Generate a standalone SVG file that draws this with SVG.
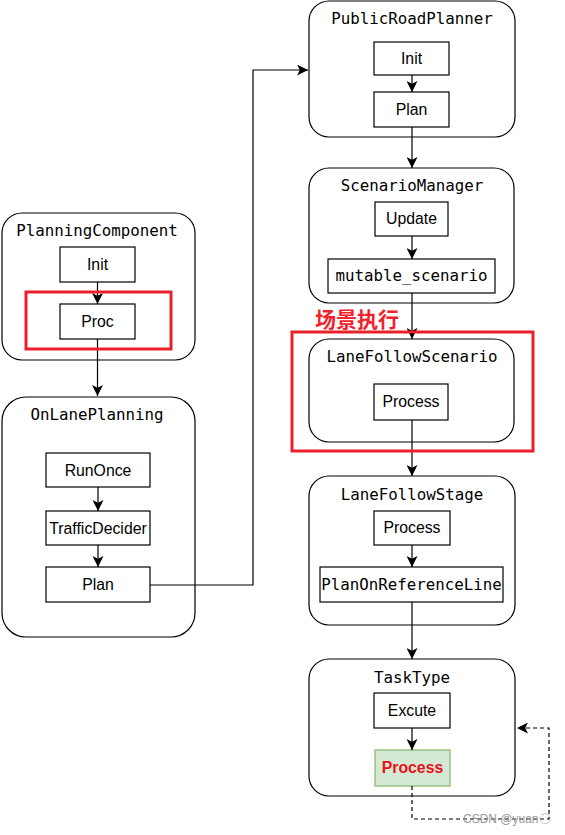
<svg xmlns="http://www.w3.org/2000/svg" width="565" height="835" viewBox="0 0 565 835">
<style>
.cont{fill:#fff;stroke:#000;stroke-width:1.2}
.box{fill:#fff;stroke:#000;stroke-width:1.2}
.title{font-family:"DejaVu Sans Mono","Liberation Mono",monospace;font-size:15.8px;fill:#000;text-anchor:middle}
.mono{font-family:"DejaVu Sans Mono","Liberation Mono",monospace;font-size:15.8px;fill:#000;text-anchor:middle}
.lbl{font-family:"Liberation Sans",Arial,sans-serif;font-size:15.8px;fill:#000;text-anchor:middle}
.edge{fill:none;stroke:#000;stroke-width:1.2}
.dash{fill:none;stroke:#000;stroke-width:1.2;stroke-dasharray:4,3}
.hl{fill:none;stroke:#e8202a;stroke-width:3}
</style>
<defs>
<marker id="ah" markerUnits="userSpaceOnUse" markerWidth="11" markerHeight="11" viewBox="0 0 10 10" refX="10" refY="5" orient="auto">
<path d="M0,0 L10,5 L0,10 L2.5,5 Z" fill="#000"/>
</marker>
</defs>
<rect width="565" height="835" fill="#fff"/>

<g id="PlanningComponent">
<rect class="cont" x="2" y="213" width="193" height="147" rx="20"/>
<text class="title" x="97" y="236">PlanningComponent</text>
<rect class="box" x="60" y="247" width="75" height="35"/>
<text class="lbl" x="97.5" y="270">Init</text>
<rect class="box" x="60" y="304" width="75" height="35"/>
<text class="lbl" x="97.5" y="327">Proc</text>
</g>

<g id="OnLanePlanning">
<rect class="cont" x="2" y="397" width="193" height="240" rx="24"/>
<text class="title" x="97" y="420">OnLanePlanning</text>
<rect class="box" x="46" y="453" width="104" height="34"/>
<text class="lbl" x="98" y="476">RunOnce</text>
<rect class="box" x="46" y="511" width="104" height="34"/>
<text class="lbl" x="98" y="534">TrafficDecider</text>
<rect class="box" x="46" y="567" width="104" height="35"/>
<text class="lbl" x="98" y="590">Plan</text>
</g>

<g id="PublicRoadPlanner">
<rect class="cont" x="309" y="1" width="206" height="136" rx="20"/>
<text class="title" x="412" y="24">PublicRoadPlanner</text>
<rect class="box" x="374" y="42" width="75" height="33"/>
<text class="lbl" x="411.5" y="64">Init</text>
<rect class="box" x="374" y="92" width="75" height="35"/>
<text class="lbl" x="411.5" y="115">Plan</text>
</g>

<g id="ScenarioManager">
<rect class="cont" x="309" y="168" width="205" height="135" rx="20"/>
<text class="title" x="412" y="191">ScenarioManager</text>
<rect class="box" x="375" y="202" width="73" height="34"/>
<text class="lbl" x="411.5" y="224">Update</text>
<rect class="box" x="328" y="259" width="167" height="34"/>
<text class="mono" x="411.5" y="281">mutable_scenario</text>
</g>

<g id="LaneFollowScenario">
<rect class="cont" x="309" y="339" width="205" height="103" rx="20"/>
<text class="title" x="412" y="362">LaneFollowScenario</text>
<rect class="box" x="374" y="384" width="74" height="36"/>
<text class="lbl" x="411" y="407">Process</text>
</g>

<g id="LaneFollowStage">
<rect class="cont" x="309" y="476" width="206" height="149" rx="20"/>
<text class="title" x="412" y="500">LaneFollowStage</text>
<rect class="box" x="374" y="511" width="76" height="34"/>
<text class="lbl" x="412" y="533">Process</text>
<rect class="box" x="320" y="567" width="183" height="35"/>
<text class="mono" x="411.5" y="590">PlanOnReferenceLine</text>
</g>

<g id="TaskType">
<rect class="cont" x="309" y="659" width="206" height="137" rx="20"/>
<text class="title" x="412" y="683">TaskType</text>
<rect class="box" x="374" y="693" width="76" height="35"/>
<text class="lbl" x="412" y="716">Excute</text>
<rect x="375" y="750" width="75" height="36" fill="#d5e8d4" stroke="#82b366" stroke-width="1.2"/>
<text class="lbl" x="412.5" y="773" style="fill:#e8101a;font-weight:bold">Process</text>
</g>

<g id="connectors">
<line class="edge" x1="97.5" y1="282" x2="97.5" y2="304" marker-end="url(#ah)"/>
<line class="edge" x1="97.5" y1="339" x2="97.5" y2="396" marker-end="url(#ah)"/>
<line class="edge" x1="98" y1="487" x2="98" y2="511" marker-end="url(#ah)"/>
<line class="edge" x1="98" y1="545" x2="98" y2="567" marker-end="url(#ah)"/>
<polyline class="edge" points="150,585 253,585 253,70 308,70" marker-end="url(#ah)"/>
<line class="edge" x1="412" y1="75" x2="412" y2="92" marker-end="url(#ah)"/>
<line class="edge" x1="412" y1="127" x2="412" y2="168" marker-end="url(#ah)"/>
<line class="edge" x1="412" y1="236" x2="412" y2="259" marker-end="url(#ah)"/>
<line class="edge" x1="412" y1="293" x2="412" y2="339" marker-end="url(#ah)"/>
<line class="edge" x1="412" y1="420" x2="412" y2="476" marker-end="url(#ah)"/>
<line class="edge" x1="412" y1="545" x2="412" y2="567" marker-end="url(#ah)"/>
<line class="edge" x1="412" y1="602" x2="412" y2="659" marker-end="url(#ah)"/>
<line class="edge" x1="412" y1="728" x2="412" y2="750" marker-end="url(#ah)"/>
<polyline class="dash" points="412,786 412,819 549,819 549,728 517,728" marker-end="url(#ah)"/>
</g>

<g id="highlights">
<rect class="hl" x="26" y="292" width="145" height="57"/>
<rect class="hl" x="292" y="332" width="241" height="119"/>
<text x="315" y="327" style="font-family:'Noto Sans CJK SC',sans-serif;font-size:21px;font-weight:bold;fill:#f0222a">场景执行</text>
</g>

<text x="463" y="823" style="font-family:'Liberation Sans',Arial,sans-serif;font-size:12px;fill:#999">CSDN @yuan〇</text>
</svg>
